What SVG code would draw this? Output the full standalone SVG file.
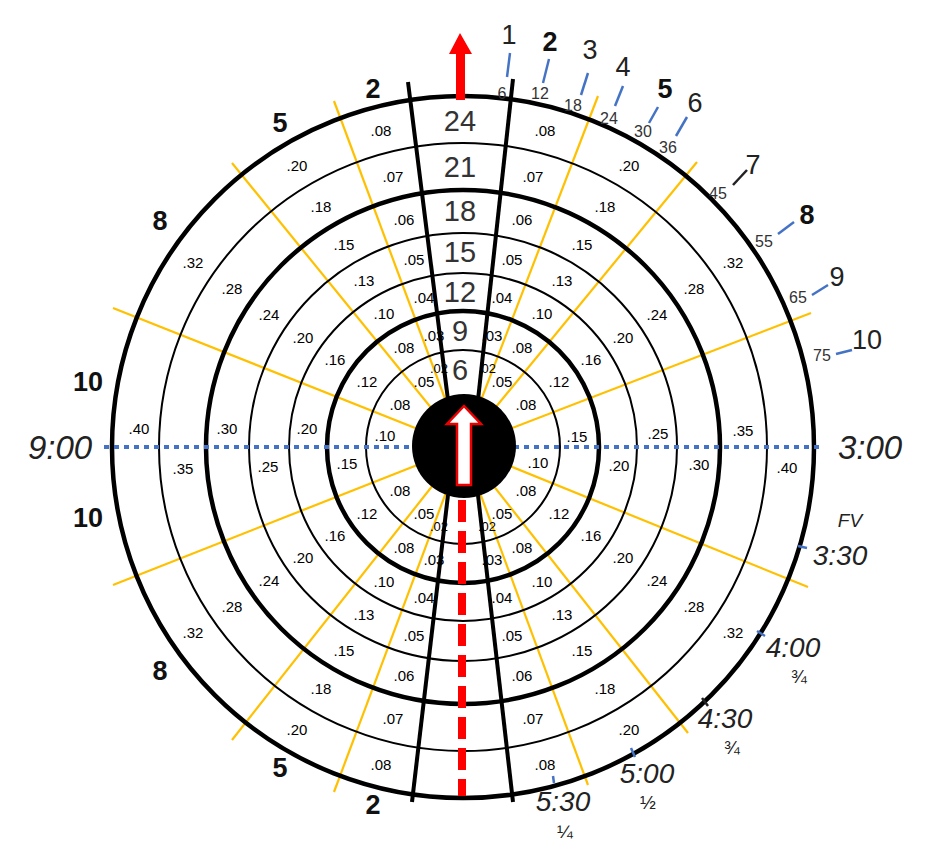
<svg xmlns="http://www.w3.org/2000/svg" width="936" height="862" viewBox="0 0 936 862">
<style>
.ring{fill:none;stroke:#000;stroke-width:2}
.thick{stroke-width:4.5}
.sp{stroke:#ffc000;stroke-width:2.2}
.bl{stroke:#000;stroke-width:4}
.tk{stroke:#4472c4;stroke-width:2.5}
text{font-family:"Liberation Sans",Arial,sans-serif;text-anchor:middle;dominant-baseline:central}
.v{font-size:15px;fill:#000}
.vs{font-size:13px;fill:#000}
.c{font-size:29px;fill:#333}
.b{font-size:27px;font-weight:bold;fill:#111}
.n{font-size:27px;fill:#222}
.s{font-size:16px;fill:#333}
.i{font-style:italic;fill:#222}
.f{font-size:19px;fill:#222}
</style>
<rect width="936" height="862" fill="#fff"/>
<g id="connectors">
<line class="sp" x1="463" y1="447" x2="334" y2="101"/>
<line class="sp" x1="463" y1="447" x2="232" y2="163"/>
<line class="sp" x1="463" y1="447" x2="113" y2="308"/>
<line class="sp" x1="463" y1="447" x2="113" y2="585"/>
<line class="sp" x1="463" y1="447" x2="232" y2="740"/>
<line class="sp" x1="463" y1="447" x2="334" y2="792"/>
<line class="sp" x1="463" y1="447" x2="598" y2="96"/>
<line class="sp" x1="463" y1="447" x2="697" y2="162"/>
<line class="sp" x1="463" y1="447" x2="811" y2="313"/>
<line class="sp" x1="463" y1="447" x2="808" y2="587"/>
<line class="sp" x1="463" y1="447" x2="688" y2="733"/>
<line class="sp" x1="463" y1="447" x2="588" y2="785"/>
</g>
<g id="rings">
<circle class="ring thick" cx="463" cy="447" r="351"/>
<circle class="ring" cx="463" cy="447" r="304"/>
<circle class="ring thick" cx="463" cy="447" r="257"/>
<circle class="ring" cx="463" cy="447" r="214"/>
<circle class="ring" cx="463" cy="447" r="174"/>
<circle class="ring thick" cx="463" cy="447" r="136"/>
<circle class="ring" cx="463" cy="447" r="97"/>
</g>
<g id="lanes">
<line class="bl" x1="408" y1="82" x2="448" y2="400"/>
<line class="bl" x1="513" y1="79" x2="478" y2="400"/>
<line class="bl" x1="412" y1="802" x2="448" y2="495"/>
<line class="bl" x1="513" y1="802" x2="478" y2="495"/>
<line x1="104" y1="447" x2="822" y2="447" stroke="#4472c4" stroke-width="4" stroke-dasharray="5 5"/>
<line x1="462" y1="500" x2="462" y2="796" stroke="#f00" stroke-width="8" stroke-dasharray="22 9"/>
</g>
<g id="eye">
<circle cx="464" cy="446" r="52" fill="#000"/>
<polygon points="457,485 471,485 471,424 481,424 464,406 447,424 457,424" fill="#fff" stroke="#e00" stroke-width="2.5"/>
<polygon points="456,100 465,100 465,54 472,54 460,33 449,54 456,54" fill="#f00"/>
</g>
<g id="center-labels">
<text class="c" x="460" y="121">24</text>
<text class="c" x="460" y="167">21</text>
<text class="c" x="460" y="211">18</text>
<text class="c" x="460" y="252">15</text>
<text class="c" x="460" y="292">12</text>
<text class="c" x="460" y="331" fill="#444">9</text>
<text class="c" x="460" y="370" fill="#444">6</text>
</g>
<g id="values">
<text class="v" x="381" y="130">.08</text><text class="v" x="545" y="130">.08</text><text class="v" x="381" y="764">.08</text><text class="v" x="545" y="764">.08</text>
<text class="v" x="393" y="176">.07</text><text class="v" x="533" y="176">.07</text><text class="v" x="393" y="718">.07</text><text class="v" x="533" y="718">.07</text>
<text class="v" x="404" y="219">.06</text><text class="v" x="522" y="219">.06</text><text class="v" x="404" y="675">.06</text><text class="v" x="522" y="675">.06</text>
<text class="v" x="414" y="259">.05</text><text class="v" x="512" y="259">.05</text><text class="v" x="414" y="635">.05</text><text class="v" x="512" y="635">.05</text>
<text class="v" x="424" y="297">.04</text><text class="v" x="502" y="297">.04</text><text class="v" x="424" y="597">.04</text><text class="v" x="502" y="597">.04</text>
<text class="v" x="434" y="335">.03</text><text class="v" x="492" y="335">.03</text><text class="v" x="434" y="559">.03</text><text class="v" x="492" y="559">.03</text>
<text class="vs" x="439" y="368">.02</text><text class="vs" x="487" y="368">.02</text><text class="vs" x="439" y="526">.02</text><text class="vs" x="487" y="526">.02</text>

<text class="v" x="297" y="165">.20</text><text class="v" x="629" y="165">.20</text><text class="v" x="297" y="729">.20</text><text class="v" x="629" y="729">.20</text>
<text class="v" x="321" y="206">.18</text><text class="v" x="605" y="206">.18</text><text class="v" x="321" y="688">.18</text><text class="v" x="605" y="688">.18</text>
<text class="v" x="344" y="244">.15</text><text class="v" x="582" y="244">.15</text><text class="v" x="344" y="650">.15</text><text class="v" x="582" y="650">.15</text>
<text class="v" x="364" y="280">.13</text><text class="v" x="562" y="280">.13</text><text class="v" x="364" y="614">.13</text><text class="v" x="562" y="614">.13</text>
<text class="v" x="384" y="313">.10</text><text class="v" x="542" y="313">.10</text><text class="v" x="384" y="581">.10</text><text class="v" x="542" y="581">.10</text>
<text class="v" x="404" y="347">.08</text><text class="v" x="522" y="347">.08</text><text class="v" x="404" y="547">.08</text><text class="v" x="522" y="547">.08</text>
<text class="v" x="424" y="381">.05</text><text class="v" x="502" y="381">.05</text><text class="v" x="424" y="513">.05</text><text class="v" x="502" y="513">.05</text>

<text class="v" x="193" y="262">.32</text><text class="v" x="733" y="262">.32</text><text class="v" x="193" y="632">.32</text><text class="v" x="733" y="632">.32</text>
<text class="v" x="232" y="288">.28</text><text class="v" x="694" y="288">.28</text><text class="v" x="232" y="606">.28</text><text class="v" x="694" y="606">.28</text>
<text class="v" x="269" y="314">.24</text><text class="v" x="657" y="314">.24</text><text class="v" x="269" y="580">.24</text><text class="v" x="657" y="580">.24</text>
<text class="v" x="303" y="337">.20</text><text class="v" x="623" y="337">.20</text><text class="v" x="303" y="557">.20</text><text class="v" x="623" y="557">.20</text>
<text class="v" x="335" y="359">.16</text><text class="v" x="591" y="359">.16</text><text class="v" x="335" y="535">.16</text><text class="v" x="591" y="535">.16</text>
<text class="v" x="367" y="381">.12</text><text class="v" x="559" y="381">.12</text><text class="v" x="367" y="513">.12</text><text class="v" x="559" y="513">.12</text>
<text class="v" x="400" y="404">.08</text><text class="v" x="526" y="404">.08</text><text class="v" x="400" y="490">.08</text><text class="v" x="526" y="490">.08</text>

<text class="v" x="139" y="428">.40</text><text class="v" x="227" y="428">.30</text><text class="v" x="307" y="428">.20</text><text class="v" x="385" y="435">.10</text>
<text class="v" x="183" y="468">.35</text><text class="v" x="268" y="466">.25</text><text class="v" x="347" y="463">.15</text>
<text class="v" x="743" y="430">.35</text><text class="v" x="658" y="433">.25</text><text class="v" x="577" y="436">.15</text>
<text class="v" x="787" y="467">.40</text><text class="v" x="699" y="464">.30</text><text class="v" x="619" y="465">.20</text><text class="v" x="538" y="462">.10</text>
</g>
<g id="side-labels">
<text class="b" x="373" y="89">2</text><text class="b" x="280" y="123">5</text><text class="b" x="160" y="221">8</text><text class="b" x="88" y="382">10</text>
<text class="b" x="88" y="518">10</text><text class="b" x="160" y="671">8</text><text class="b" x="280" y="768">5</text><text class="b" x="373" y="805">2</text>
</g>
<g id="scale">
<line class="tk" x1="510" y1="53" x2="507" y2="77"/>
<line class="tk" x1="549" y1="59" x2="543" y2="83"/>
<line class="tk" x1="588" y1="73" x2="581" y2="95"/>
<line class="tk" x1="623" y1="86" x2="615" y2="106"/>
<line class="tk" x1="658" y1="107" x2="649" y2="123"/>
<line class="tk" x1="687" y1="117" x2="676" y2="136"/>
<line x1="747" y1="170" x2="733" y2="185" stroke="#222" stroke-width="2.5"/>
<line class="tk" x1="794" y1="222" x2="778" y2="234"/>
<line class="tk" x1="828" y1="285" x2="812" y2="295"/>
<line class="tk" x1="852" y1="350" x2="836" y2="354"/>
<text class="n" x="509" y="35">1</text>
<text class="b" x="550" y="42">2</text>
<text class="n" x="590" y="50">3</text>
<text class="n" x="623" y="67">4</text>
<text class="b" x="665" y="89">5</text>
<text class="n" x="695" y="103">6</text>
<text class="n" x="753" y="165">7</text>
<text class="b" x="807" y="215">8</text>
<text class="n" x="837" y="277">9</text>
<text class="n" x="867" y="340">10</text>
<text class="s" x="502" y="93">6</text>
<text class="s" x="540" y="93">12</text>
<text class="s" x="573" y="105">18</text>
<text class="s" x="609" y="118">24</text>
<text class="s" x="643" y="131">30</text>
<text class="s" x="668" y="147">36</text>
<text class="s" x="718" y="193">45</text>
<text class="s" x="764" y="241">55</text>
<text class="s" x="798" y="297">65</text>
<text class="s" x="822" y="355">75</text>
</g>
<g id="clock">
<text class="i" x="60" y="447" font-size="33">9:00</text>
<text class="i" x="870" y="447" font-size="33">3:00</text>
<text class="i" x="850" y="520" font-size="19">FV</text>
<line class="tk" x1="798" y1="546" x2="807" y2="548"/>
<text class="i" x="840" y="555" font-size="28">3:30</text>
<line class="tk" x1="757" y1="631" x2="765" y2="636"/>
<text class="i" x="793" y="647" font-size="28">4:00</text>
<text class="f" x="799" y="676">¾</text>
<line x1="702" y1="698" x2="708" y2="706" stroke="#222" stroke-width="2.5"/>
<text class="i" x="725" y="718" font-size="28">4:30</text>
<text class="f" x="732" y="747">¾</text>
<line class="tk" x1="631" y1="748" x2="635" y2="757"/>
<text class="i" x="647" y="773" font-size="28">5:00</text>
<text class="f" x="648" y="802">½</text>
<line class="tk" x1="553" y1="776" x2="554" y2="783"/>
<text class="i" x="563" y="801" font-size="28">5:30</text>
<text class="f" x="565" y="831">¼</text>
</g>
</svg>
